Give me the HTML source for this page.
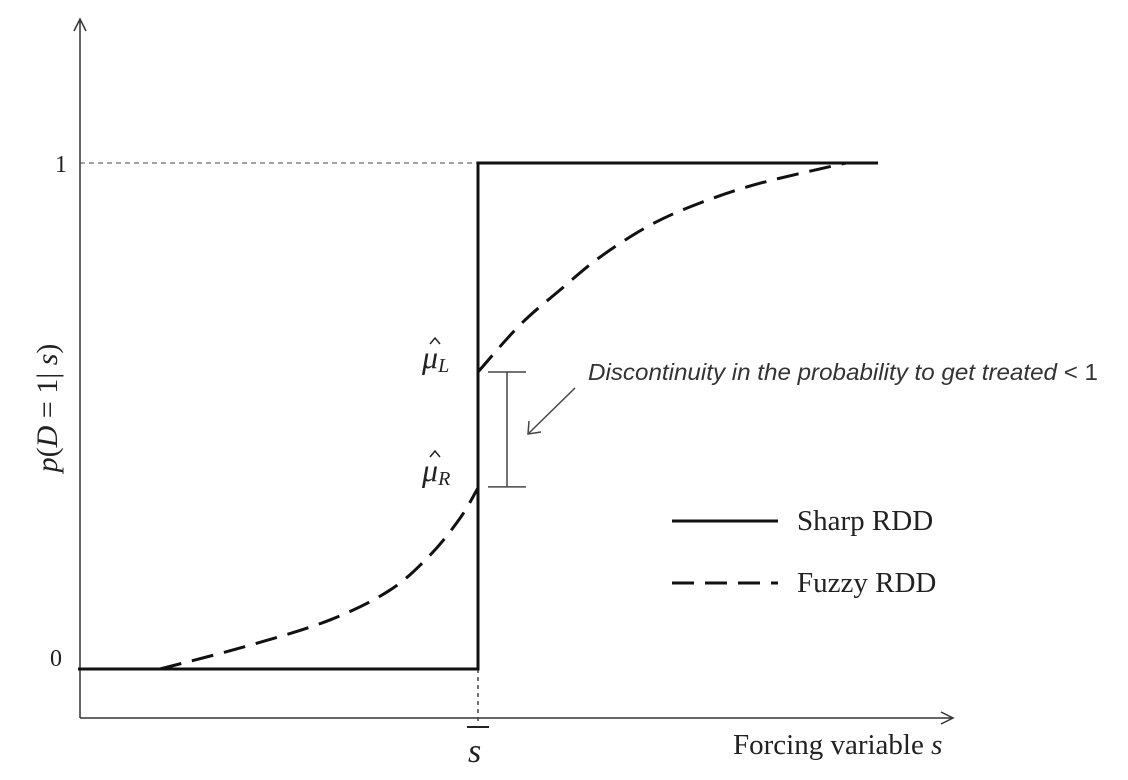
<!DOCTYPE html>
<html><head><meta charset="utf-8"><style>
html,body{margin:0;padding:0;background:#fff;width:1128px;height:780px;overflow:hidden}
svg{display:block}
.serif{font-family:"Liberation Serif",serif;fill:#222}
</style></head><body>
<svg id="chart" width="1128" height="780" viewBox="0 0 1128 780">
<g id="marks"></g>
<text class="serif" x="55" y="172" font-size="24">1</text>
<text class="serif" x="50" y="666" font-size="24">0</text>
<text class="serif" transform="translate(57,408) rotate(-90)" text-anchor="middle" font-size="30"><tspan font-style="italic">p</tspan>(<tspan font-style="italic">D</tspan> = 1| <tspan font-style="italic">s</tspan>)</text>
<text class="serif" x="468" y="762" font-size="34" font-style="italic">s</text>
<line x1="467" y1="727" x2="489" y2="727" stroke="#222" stroke-width="2"/>
<text class="serif" x="733" y="754" font-size="29">Forcing variable <tspan font-style="italic">s</tspan></text>
<text class="serif" x="422" y="368" font-size="32" font-style="italic">μ<tspan font-size="20" dy="4">L</tspan></text>
<polyline points="430,344 435,338 440,344" fill="none" stroke="#222" stroke-width="1.5"/>
<text class="serif" x="422" y="481" font-size="32" font-style="italic">μ<tspan font-size="20" dy="4">R</tspan></text>
<polyline points="430,457 435,451 440,457" fill="none" stroke="#222" stroke-width="1.5"/>
<text x="588" y="380" font-family="Liberation Sans, sans-serif" font-size="23" font-style="italic" fill="#333" textLength="510" lengthAdjust="spacingAndGlyphs">Discontinuity in the probability to get treated <tspan font-style="normal">&lt; 1</tspan></text>
<line x1="575" y1="388" x2="529" y2="433" stroke="#444" stroke-width="1.5"/>
<polyline points="529,421 528,434 541,432" fill="none" stroke="#444" stroke-width="1.5"/>
<line x1="672" y1="521" x2="778" y2="521" stroke="#111" stroke-width="3"/>
<text class="serif" x="797" y="530" font-size="29">Sharp RDD</text>
<line x1="672" y1="583" x2="778" y2="583" stroke="#111" stroke-width="3" stroke-dasharray="22,11"/>
<text class="serif" x="797" y="592" font-size="29">Fuzzy RDD</text>
</svg>
<script>
const cutoffS = 50;
const sharpS = [0, 50, 50, 100];
const sharpP = [0, 0, 1, 1];
const fuzzyLeftS = [10.25, 21.5, 31.5, 39, 44, 47.75, 50];
const fuzzyLeftP = [0, 0.047, 0.097, 0.156, 0.225, 0.298, 0.358];
const fuzzyRightS = [50, 55.25, 60.25, 65.25, 71.5, 77.75, 85.25, 96];
const fuzzyRightP = [0.587, 0.68, 0.749, 0.814, 0.877, 0.921, 0.96, 1];
const muL = 0.587, muR = 0.36;

const X = s => 78 + s * 8;
const Y = p => 669 - p * 506;
const NS = 'http://www.w3.org/2000/svg';
const g = document.getElementById('marks');
function mk(tag, attrs) { const e = document.createElementNS(NS, tag); for (const k in attrs) e.setAttribute(k, attrs[k]); g.appendChild(e); return e; }
function smooth(xs, ys) {
  const pts = xs.map((s, i) => [X(s), Y(ys[i])]);
  let d = 'M' + pts[0][0] + ',' + pts[0][1];
  for (let i = 0; i < pts.length - 1; i++) {
    const p0 = pts[i - 1] || pts[i], p1 = pts[i], p2 = pts[i + 1], p3 = pts[i + 2] || p2;
    const c1 = [p1[0] + (p2[0] - p0[0]) / 6, p1[1] + (p2[1] - p0[1]) / 6];
    const c2 = [p2[0] - (p3[0] - p1[0]) / 6, p2[1] - (p3[1] - p1[1]) / 6];
    d += ' C' + c1 + ' ' + c2 + ' ' + p2;
  }
  return d;
}
let e;
e = mk('line', {x1: 80, y1: 718, x2: 952, y2: 718, stroke: '#333', 'stroke-width': 1.5});
 
e = mk('polyline', {points: '941,712 953,718 941,724', fill: 'none', stroke: '#333', 'stroke-width': 1.5});
 
e = mk('line', {x1: 80, y1: 718, x2: 80, y2: 20, stroke: '#333', 'stroke-width': 1.5});
 
e = mk('polyline', {points: '74,31 80,19 86,31', fill: 'none', stroke: '#333', 'stroke-width': 1.5});
 
e = mk('line', {x1: 80, y1: Y(1), x2: X(cutoffS), y2: Y(1), stroke: '#444', 'stroke-width': 1, 'stroke-dasharray': '5,4'});
 
e = mk('line', {x1: X(cutoffS), y1: Y(0), x2: X(cutoffS), y2: 724, stroke: '#444', 'stroke-width': 1.5, 'stroke-dasharray': '4,4'});
 
e = mk('polyline', {points: sharpS.map((s, i) => X(s) + ',' + Y(sharpP[i])).join(' '), fill: 'none', stroke: '#111', 'stroke-width': 3});
 
e = mk('path', {d: smooth(fuzzyLeftS, fuzzyLeftP), fill: 'none', stroke: '#111', 'stroke-width': 3, 'stroke-dasharray': '22,11'});
 
e = mk('path', {d: smooth(fuzzyRightS, fuzzyRightP), fill: 'none', stroke: '#111', 'stroke-width': 3, 'stroke-dasharray': '22,11'});
 
const bx = 507;
e = mk('line', {x1: bx, y1: Y(muL), x2: bx, y2: Y(muR), stroke: '#444', 'stroke-width': 1.5});
 
e = mk('line', {x1: bx - 19, y1: Y(muL), x2: bx + 19, y2: Y(muL), stroke: '#444', 'stroke-width': 1.5});
 
e = mk('line', {x1: bx - 19, y1: Y(muR), x2: bx + 19, y2: Y(muR), stroke: '#444', 'stroke-width': 1.5});
 
</script>
</body></html>
